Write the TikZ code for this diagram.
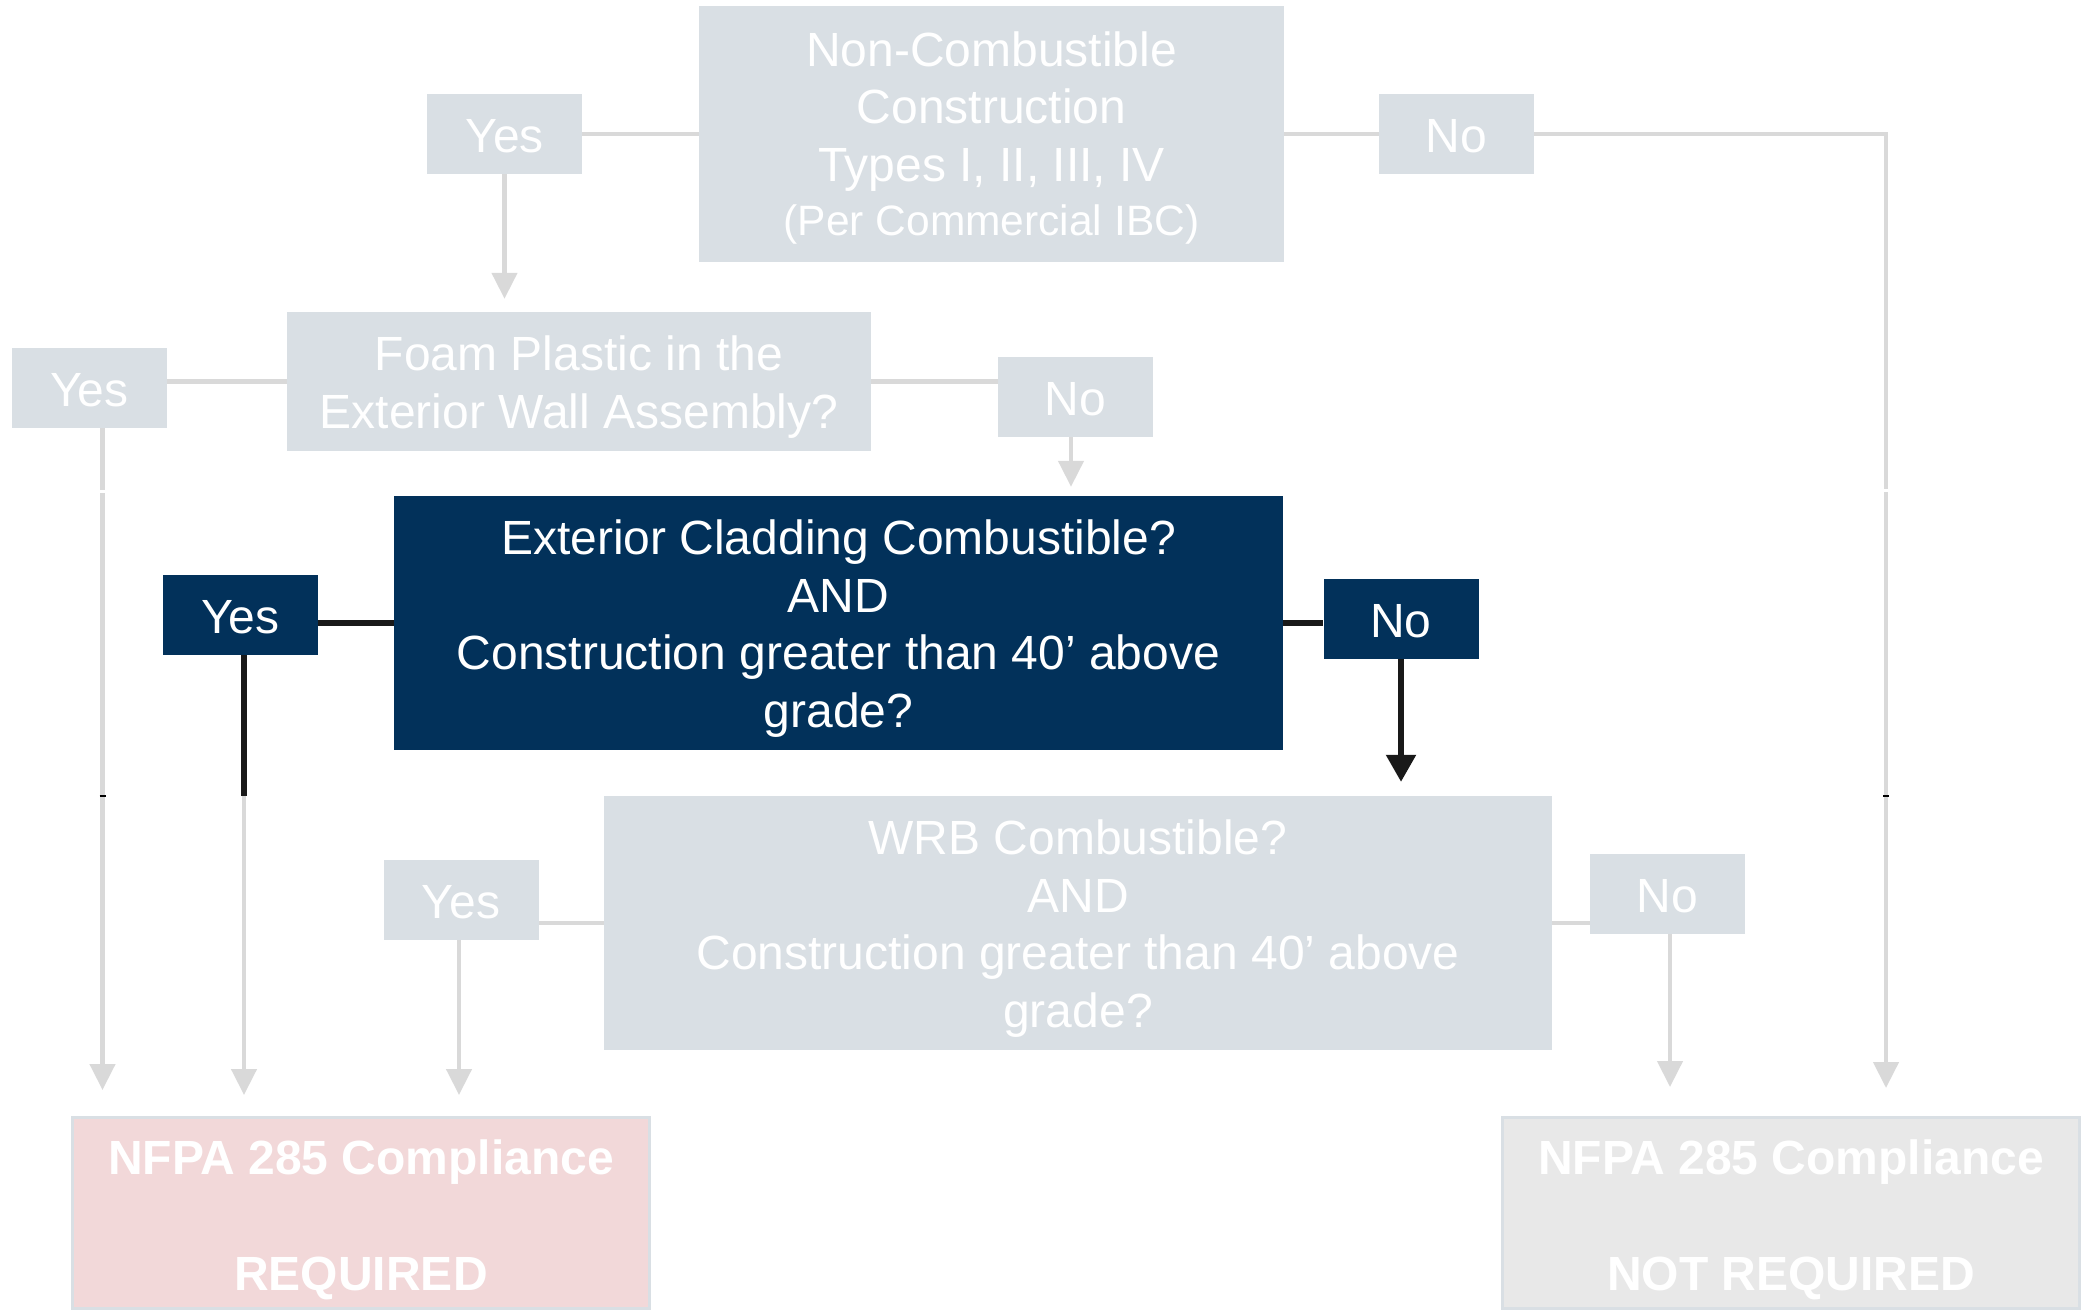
\documentclass[tikz,border=0pt]{standalone}
\usepackage{fontspec}
\setmainfont{Liberation Sans}
\usetikzlibrary{arrows.meta}

\definecolor{boxgrey}{HTML}{D9DFE4}
\definecolor{linegrey}{HTML}{D9D9D9}
\definecolor{navy}{HTML}{02315A}
\definecolor{reqpink}{HTML}{F2D8D9}
\definecolor{notreqgrey}{HTML}{E8E8E8}

% invisible strut on the first line, sets the optical centring of the text
\newcommand\firstline[1]{\rule{0pt}{#1}}

\tikzset{
  base/.style={inner sep=0pt, align=center, text=white,
    font=\fontsize{48}{57.5}\selectfont},
  greybox/.style={base, fill=boxgrey},
  navybox/.style={base, fill=navy},
  answer/.style={minimum width=155pt, minimum height=80pt,
    text height=37pt, text depth=0pt},
  resultbox/.style={inner sep=0pt, align=center, text=white,
    draw=boxgrey, line width=3pt, minimum width=577pt, minimum height=191pt,
    font=\fontsize{48}{58}\selectfont\bfseries},
  gline/.style={draw=linegrey, line width=4.5pt},
  garrow/.style={gline, -{Triangle[length=26pt,width=25pt]}},
  bline/.style={draw=black!90, line width=5.5pt},
  barrow/.style={bline, -{Triangle[length=27pt,width=29pt]}},
}

\begin{document}
\begin{tikzpicture}[x=1pt, y=-1pt]
\useasboundingbox (0,0) rectangle (2092,1311);

% decision boxes
\node[greybox, minimum width=585pt, minimum height=255pt] (nc) at (991.5,134)
  {\firstline{43pt}Non-Combustible\\Construction\\Types I, II, III, IV\\[-3pt]
   {\fontsize{42.5}{50}\selectfont (Per Commercial IBC)}};
\node[greybox, minimum width=584pt, minimum height=139pt] (foam) at (579,381.5)
  {\firstline{45.5pt}Foam Plastic in the\\Exterior Wall Assembly?};
\node[navybox, minimum width=889pt, minimum height=254pt] (clad) at (838.5,623)
  {\firstline{45.5pt}Exterior Cladding Combustible?\\AND\\Construction greater than 40’ above\\grade?};
\node[greybox, minimum width=948pt, minimum height=254pt] (wrb) at (1078,923)
  {\firstline{45.5pt}WRB Combustible?\\AND\\Construction greater than 40’ above\\grade?};

% answer labels
\node[greybox, answer] (yes1) at (504.5,134) {Yes};
\node[greybox, answer] (no1) at (1456.5,134) {No};
\node[greybox, answer] (yes2) at (89.5,388) {Yes};
\node[greybox, answer] (no2) at (1075.5,397) {No};
\node[navybox, answer] (yes3) at (240.5,615) {Yes};
\node[navybox, answer] (no3) at (1401,618.5) {No};
\node[greybox, answer] (yes4) at (461,899.5) {Yes};
\node[greybox, answer] (no4) at (1667.5,893.5) {No};

% outcomes
\node[resultbox, fill=reqpink] (req) at (361,1213)
  {\firstline{49pt}NFPA 285 Compliance\\[58pt]REQUIRED};
\node[resultbox, fill=notreqgrey] (notreq) at (1791,1213)
  {\firstline{49pt}NFPA 285 Compliance\\[58pt]NOT REQUIRED};

% helper points for offset drop lines
\coordinate (y2d) at ([xshift=13pt]yes2.south);
\coordinate (n2d) at ([xshift=-4.5pt]no2.south);
\coordinate (y3d) at ([xshift=3.5pt]yes3.south);
\coordinate (y4d) at ([xshift=-2pt]yes4.south);
\coordinate (n4d) at ([xshift=2.5pt]no4.south);
\coordinate (nrt) at (1886,134);
\coordinate (y3k) at (y3d |- wrb.north);

% level 1
\draw[gline] (yes1.east) -- (nc.west);
\draw[gline] (nc.east) -- (no1.west);
\draw[garrow, shorten >=13pt] (yes1.south) -- (yes1.south |- foam.north);
\draw[garrow, shorten >=28pt] (no1.east) -- (nrt) -- (nrt |- notreq.north);

% level 2
\draw[gline] (foam.west) -- (foam.west -| yes2.east);
\draw[gline] (foam.east) -- (foam.east -| no2.west);
\draw[garrow, shorten >=9pt] (n2d) -- (n2d |- clad.north);
\draw[garrow, shorten >=26pt] (y2d) -- (y2d |- req.north);

% level 3 (highlighted path)
\draw[bline] (clad.west) -- (clad.west -| yes3.east);
\draw[bline] (clad.east) -- (clad.east -| no3.west);
\draw[bline] (y3d) -- (y3k);
\draw[garrow, shorten >=21pt] (y3k) -- (y3k |- req.north);
\draw[barrow, shorten >=14pt] (no3.south) -- (no3.south |- wrb.north);

% level 4
\draw[gline] (wrb.west) -- (wrb.west -| yes4.east);
\draw[gline] (wrb.east) -- (wrb.east -| no4.west);
\draw[garrow, shorten >=21pt] (y4d) -- (y4d |- req.north);
\draw[garrow, shorten >=29pt] (n4d) -- (n4d |- notreq.north);

% small joins in the long side lines
\fill[white] ([xshift=-4pt,yshift=-1pt]y2d |- foam.south) ++(0,38) rectangle ++(8,2.5);
\fill[white] (1882,489) rectangle (1890,491.5);
\draw[black, line width=1.5pt] ([xshift=-3pt]y2d |- y3k) -- ([xshift=3pt]y2d |- y3k);
\draw[black, line width=1.5pt] ([xshift=-3pt]nrt |- y3k) -- ([xshift=3pt]nrt |- y3k);
\end{tikzpicture}
\end{document}
